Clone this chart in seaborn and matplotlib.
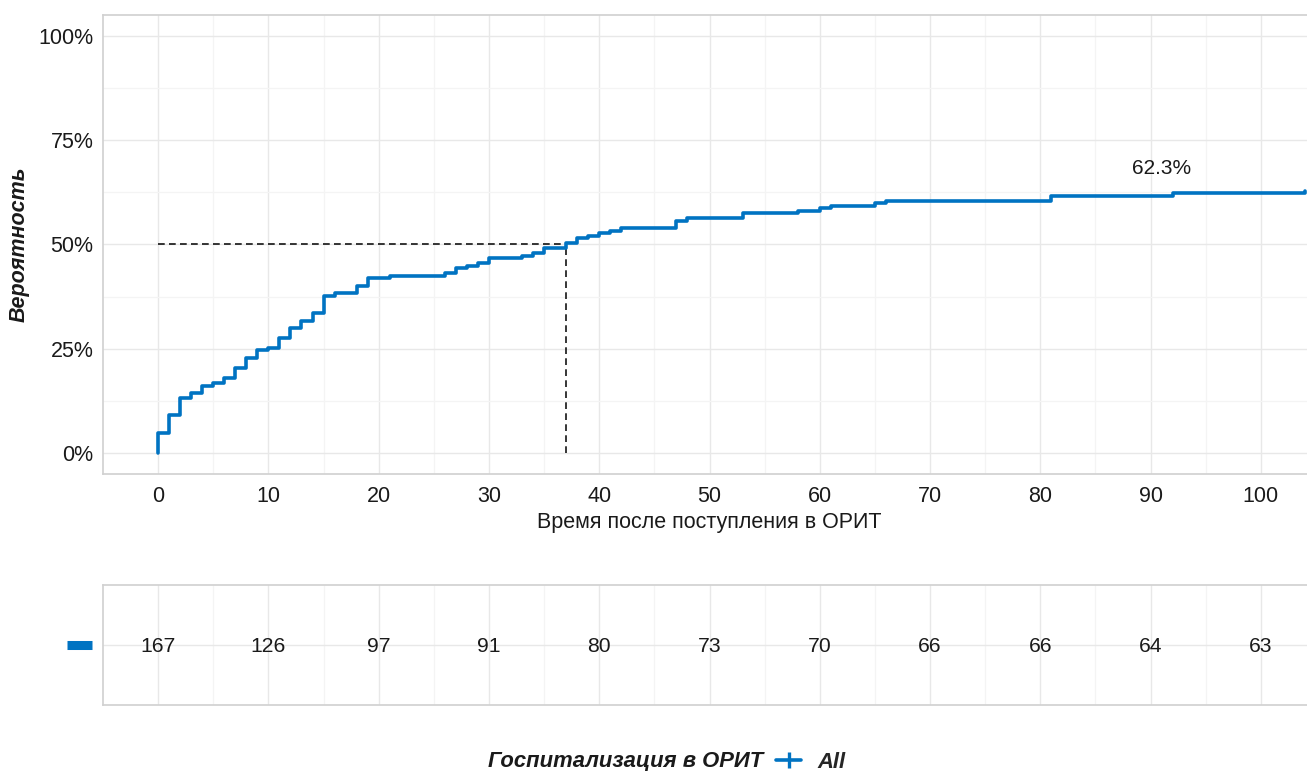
import matplotlib
matplotlib.use("Agg")
import matplotlib.pyplot as plt
import numpy as np
import pandas as pd
import seaborn as sns

# Cumulative incidence of ICU admission (step function, %)
times = [0, 0, 1, 2, 3, 4, 5, 6, 7, 8, 9, 10, 11, 12, 13, 14, 15, 16, 18, 19,
         21, 26, 27, 28, 29, 30, 33, 34, 35, 37, 38, 39, 40, 41, 42, 47, 48,
         53, 58, 60, 61, 65, 66, 81, 92, 104]
incidence = [0.0, 4.8, 9.1, 13.2, 14.4, 16.2, 16.8, 18.0, 20.4, 22.8, 24.6,
             25.2, 27.6, 29.9, 31.7, 33.5, 37.7, 38.3, 40.1, 41.9, 42.5, 43.1,
             44.3, 44.9, 45.5, 46.7, 47.3, 47.9, 49.1, 50.3, 51.5, 52.1, 52.7,
             53.3, 53.9, 55.7, 56.3, 57.5, 58.1, 58.7, 59.3, 59.9, 60.5, 61.7,
             62.3, 62.9]

median_time = 37
final_label = "62.3%"
final_label_pos = (91, 68.3)

# Number at risk
risk_times = [0, 10, 20, 30, 40, 50, 60, 70, 80, 90, 100]
at_risk = [167, 126, 97, 91, 80, 73, 70, 66, 66, 64, 63]

y_ticks = [0, 25, 50, 75, 100]
x_ticks = list(range(0, 101, 10))

blue = "#0073C2"
text_col = "#1A1A1A"
grid_major = "#E8E8E8"
grid_minor = "#F4F4F4"
spine_col = "#D0D0D0"
fs = 15.5

sns.set_theme(style="whitegrid")
plt.rcParams["font.family"] = ["Liberation Sans", "DejaVu Sans"]

W, H = 1307, 771
fig = plt.figure(figsize=(W / 100, H / 100), dpi=100)

ax_l, ax_r = 103, 1316
ax = fig.add_axes([ax_l / W, 1 - 474 / H, (ax_r - ax_l) / W, (474 - 15) / H])
tab = fig.add_axes([ax_l / W, 1 - 705 / H, (ax_r - ax_l) / W, (705 - 585) / H])

df = pd.DataFrame({"time": times, "inc": incidence})
sns.lineplot(data=df, x="time", y="inc", ax=ax, color=blue, lw=2.6,
             drawstyle="steps-post", estimator=None, sort=False, zorder=4)

dash = (0, (4.4, 2.8))
ax.plot([0, median_time], [50, 50], color="black", lw=1.1, linestyle=dash, zorder=3)
ax.plot([median_time, median_time], [0, 50], color="black", lw=1.1, linestyle=dash, zorder=3)

ax.text(*final_label_pos, final_label, ha="center", va="center",
        fontsize=fs - 0.5, color=text_col)

for a in (ax, tab):
    a.set_facecolor("white")
    a.set_xlim(-5, 105)
    a.set_xticks(x_ticks)
    a.set_xticks([x + 5 for x in x_ticks], minor=True)
    a.grid(which="major", color=grid_major, lw=1.0)
    a.grid(which="minor", color=grid_minor, lw=0.9)
    for side in ("top", "left", "bottom", "right"):
        a.spines[side].set_color(spine_col)
        a.spines[side].set_linewidth(1.2)
    a.set_axisbelow(True)

ax.set_ylim(-5, 105)
ax.set_yticks(y_ticks)
ax.set_yticks([12.5, 37.5, 62.5, 87.5], minor=True)
ax.set_yticklabels([f"{v}%" for v in y_ticks])
ax.tick_params(axis="both", which="major", labelsize=fs, colors=text_col,
               length=4, width=1, color="#B0B0B0", pad=3)
ax.tick_params(axis="x", which="major", pad=4.5)
ax.tick_params(axis="both", which="minor", length=0)
ax.set_xlabel("Время после поступления в ОРИТ", fontsize=fs, color=text_col, labelpad=4)
ax.set_ylabel("Вероятность", fontsize=fs, color=text_col, fontweight="bold",
              fontstyle="italic", labelpad=6)

# Risk table
tab.set_ylim(0, 1)
tab.set_yticks([0.5])
tab.set_yticklabels([""])
tab.set_xticklabels([])
tab.tick_params(axis="both", which="both", length=0)
for t, n in zip(risk_times, at_risk):
    tab.text(t, 0.49, str(n), ha="center", va="center", fontsize=fs - 0.3, color=text_col)
tab.plot([-0.0297, -0.0091], [0.5, 0.5], transform=tab.transAxes, color=blue,
         lw=6.5, solid_capstyle="butt", clip_on=False)

# Legend at the bottom
fig.text(763 / W, 1 - 762 / H, "Госпитализация в ОРИТ", ha="right", va="center",
         fontsize=fs + 0.3, fontweight="bold", fontstyle="italic", color=text_col)
handle = plt.Line2D([], [], color=blue, lw=2.6, marker="|", markersize=11,
                    markeredgewidth=2.4)
fig.legend([handle], ["All"], loc="center left",
           bbox_to_anchor=(776 / W, 1 - 762 / H), frameon=False,
           handlelength=1.15, handletextpad=0.75, borderaxespad=0, borderpad=0,
           prop={"size": fs + 0.3, "weight": "bold", "style": "italic"})

fig.savefig("out.png", dpi=100, facecolor="white")
